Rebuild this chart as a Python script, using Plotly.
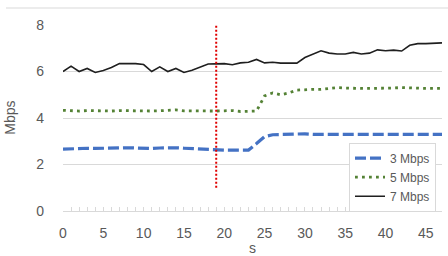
import plotly.graph_objects as go

seconds = list(range(48))

mbps3 = [2.66, 2.68, 2.70, 2.70, 2.69, 2.70, 2.72, 2.72, 2.72, 2.71,
         2.69, 2.69, 2.71, 2.73, 2.72, 2.70, 2.68, 2.68, 2.67, 2.63,
         2.62, 2.62, 2.62, 2.62, 2.90, 3.20, 3.28, 3.29, 3.31, 3.33,
         3.32, 3.30, 3.30, 3.29, 3.29, 3.28, 3.28, 3.28, 3.29, 3.30,
         3.30, 3.30, 3.29, 3.29, 3.30, 3.30, 3.30, 3.30]

mbps5 = [4.33, 4.31, 4.30, 4.32, 4.31, 4.31, 4.30, 4.32, 4.31, 4.30,
         4.31, 4.30, 4.31, 4.32, 4.35, 4.31, 4.30, 4.30, 4.31, 4.30,
         4.31, 4.32, 4.28, 4.30, 4.30, 4.95, 5.08, 5.00, 5.08, 5.20,
         5.23, 5.23, 5.23, 5.28, 5.31, 5.29, 5.27, 5.27, 5.27, 5.27,
         5.27, 5.29, 5.31, 5.29, 5.27, 5.27, 5.27, 5.27]

mbps7 = [6.00, 6.23, 6.00, 6.13, 5.96, 6.04, 6.17, 6.34, 6.34, 6.34,
         6.30, 6.00, 6.20, 6.00, 6.13, 5.96, 6.05, 6.17, 6.32, 6.33,
         6.34, 6.29, 6.37, 6.40, 6.52, 6.37, 6.40, 6.36, 6.36, 6.36,
         6.60, 6.73, 6.89, 6.79, 6.75, 6.75, 6.82, 6.75, 6.79, 6.93,
         6.89, 6.92, 6.88, 7.13, 7.20, 7.20, 7.20, 7.23]

marker_x = 19
marker_y = [1, 8]

fig = go.Figure()
fig.add_trace(go.Scatter(x=seconds, y=mbps3, mode="lines", name="3 Mbps",
                         line=dict(color="#4472C4", width=3.2, dash="11px,4px")))
fig.add_trace(go.Scatter(x=seconds, y=mbps5, mode="lines", name="5 Mbps",
                         line=dict(color="#548235", width=2.8, dash="2.8px,4.2px")))
fig.add_trace(go.Scatter(x=seconds, y=mbps7, mode="lines", name="7 Mbps",
                         line=dict(color="#1f1f1f", width=1.6)))

fig.add_shape(type="line", x0=marker_x, x1=marker_x, y0=marker_y[0], y1=marker_y[1],
              xref="x", yref="y", line=dict(color="#E00000", width=2, dash="2px,2px"))

W, H = 448, 256
L, R, T, B = 63, 6, 25, 44.5
pw, ph = W - L - R, H - T - B

def px(x):
    return (x - L) / pw

def py(y):
    return (H - B - y) / ph

fig.add_shape(type="line", x0=px(6), x1=px(448), y0=py(8), y1=py(8),
              xref="paper", yref="paper", line=dict(color="#E6E6E6", width=1.5))

font = dict(family="Liberation Sans, Arial, sans-serif", size=14, color="#595959")

fig.add_annotation(text="Mbps", x=px(10), y=py(118), xref="paper", yref="paper",
                   showarrow=False, textangle=-90, font=font, xanchor="center", yanchor="middle")
fig.add_annotation(text="s", x=px(252), y=py(249), xref="paper", yref="paper",
                   showarrow=False, font=font, xanchor="center", yanchor="middle")

fig.update_layout(
    width=W, height=H,
    margin=dict(l=L, r=R, t=T, b=B),
    paper_bgcolor="white", plot_bgcolor="white",
    font=font,
    showlegend=True,
    legend=dict(x=px(349), y=py(143), xanchor="left", yanchor="top",
                bgcolor="white", bordercolor="#D9D9D9", borderwidth=1,
                font=dict(family="Liberation Sans, Arial, sans-serif", size=12, color="#595959"),
                tracegroupgap=0, itemwidth=30),
    xaxis=dict(range=[0, 47], tickmode="linear", tick0=0, dtick=5, automargin=False,
               showgrid=False, zeroline=False, showline=True, linecolor="#D9D9D9",
               ticks="inside", ticklen=4, tickcolor="#D9D9D9",
               minor=dict(dtick=1, ticks="inside", ticklen=4, tickcolor="#D9D9D9", showgrid=False),
               ticklabelstandoff=9, tickfont=font),
    yaxis=dict(range=[0, 8], tickmode="linear", tick0=0, dtick=2, automargin=False,
               showgrid=True, gridcolor="#D9D9D9", gridwidth=1.2, zeroline=False,
               showline=False, ticks="", ticklabelstandoff=18, tickfont=font),
)

fig.write_html("out.html", config={"displayModeBar": False},
               post_script="document.body.style.margin='0px';")
